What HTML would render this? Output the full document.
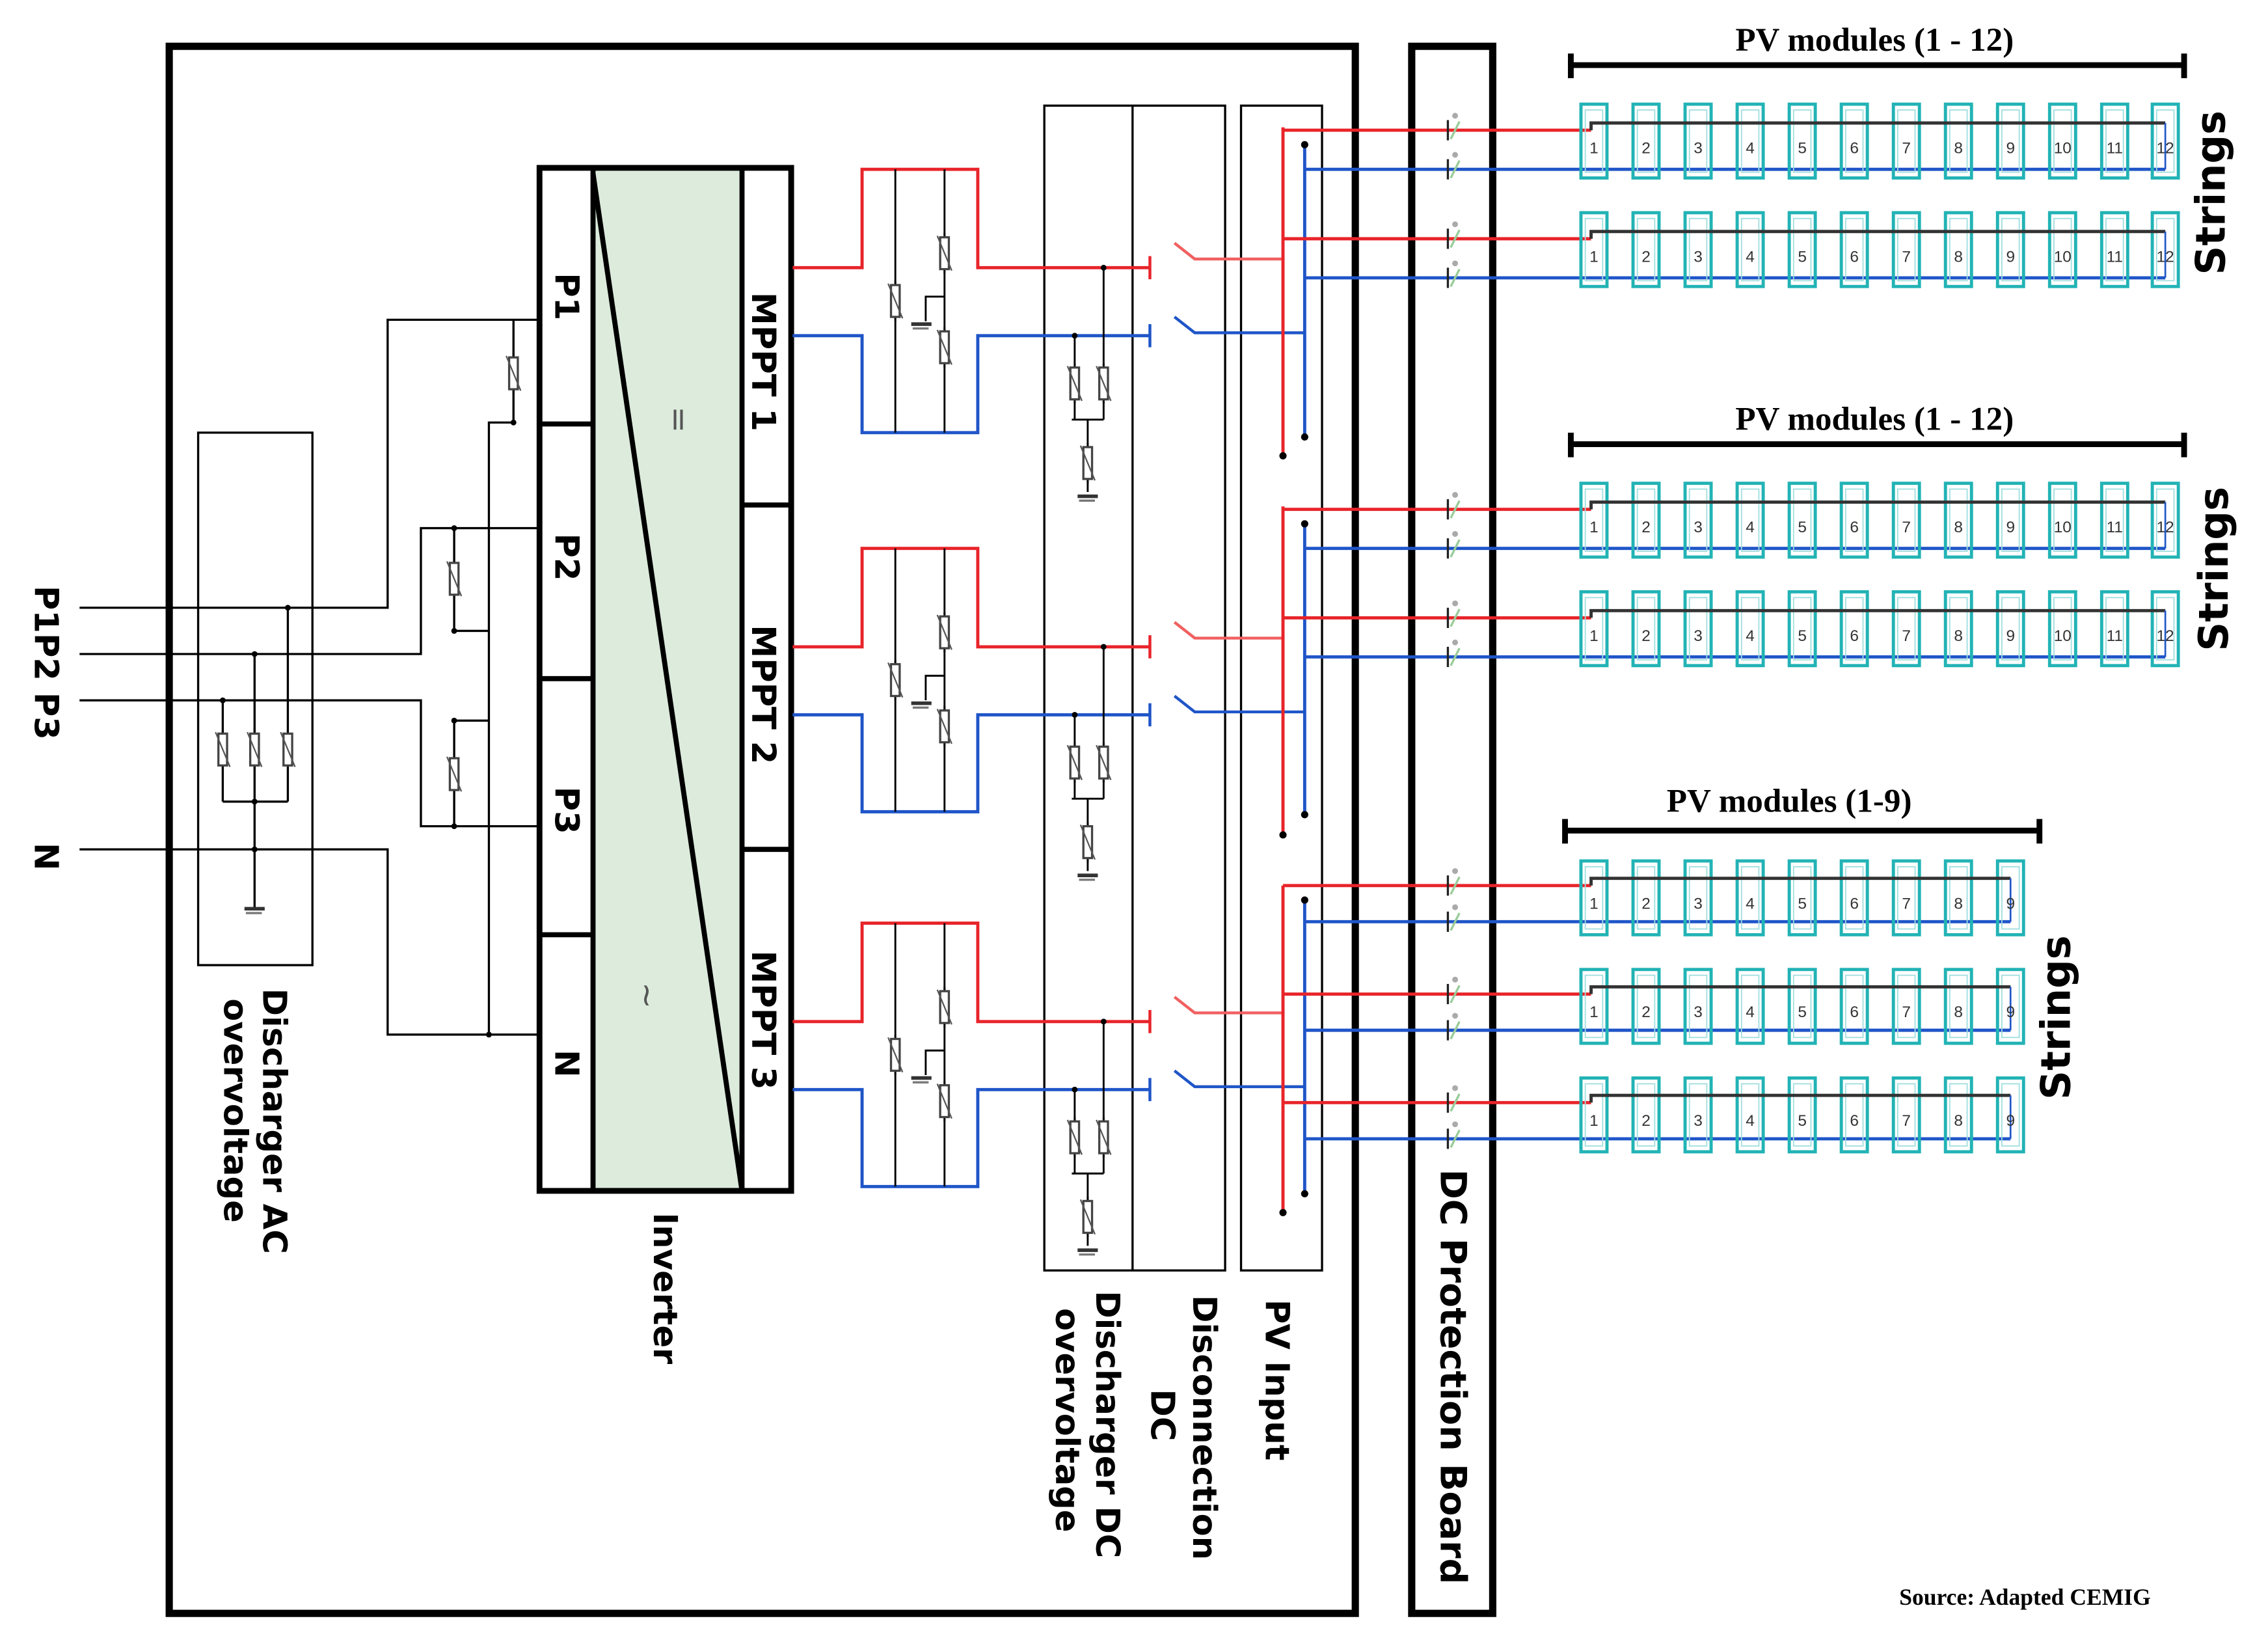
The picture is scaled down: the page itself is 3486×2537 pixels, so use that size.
<!DOCTYPE html>
<html><head><meta charset="utf-8"><style>
html,body{margin:0;padding:0;background:#fff}
svg{display:block}
text{font-family:"DejaVu Sans","Liberation Sans",sans-serif}
.lb text{font-weight:bold;font-size:23px;fill:#000}
.mn{font-family:"Liberation Sans",sans-serif;font-size:11px;fill:#333;text-anchor:middle}
.sr text,text.sr{font-family:"Liberation Serif",serif;font-weight:bold}
</style></head><body>
<svg width="3486" height="2537" viewBox="0 0 1568 1141" preserveAspectRatio="none" xmlns="http://www.w3.org/2000/svg">
<defs>
<g id="v"><line x1="0" y1="-14" x2="0" y2="14" stroke="#000" stroke-width="1.3"/><rect x="-3" y="-11" width="6" height="22" fill="#fff" stroke="#444" stroke-width="1.5"/><line x1="-5" y1="-12" x2="5" y2="12" stroke="#555" stroke-width="1"/></g>
<g id="gnd"><line x1="-7" y1="0" x2="7" y2="0" stroke="#333" stroke-width="2.5"/><line x1="-6" y1="3" x2="5" y2="3" stroke="#777" stroke-width="1.5"/></g>
<g id="m"><rect x="-9" y="0" width="18" height="51" fill="none" stroke="#22b3b5" stroke-width="2.2"/><rect x="-6" y="4" width="12" height="43" fill="none" stroke="#9fdede" stroke-width="0.8"/></g>
<g id="f"><line x1="-4" y1="-7" x2="-4" y2="7" stroke="#222" stroke-width="1.5"/><circle cx="1" cy="-10" r="2" fill="#aaa"/><line x1="-2" y1="6" x2="4" y2="-6" stroke="#9c9" stroke-width="1.5"/></g>
</defs>

<rect x="117" y="32" width="820" height="1083" fill="none" stroke="#000" stroke-width="5"/>
<rect x="976" y="32" width="56" height="1083" fill="none" stroke="#000" stroke-width="5"/>

<g fill="none" stroke="#000" stroke-width="1.5">
<polyline points="55,420 268,420 268,221 373,221"/>
<polyline points="55,452 291,452 291,365 373,365"/>
<polyline points="55,484 291,484 291,571 373,571"/>
<polyline points="55,587 268,587 268,715 373,715"/>
<line x1="355" y1="221" x2="355" y2="292"/><polyline points="355,292 338,292 338,715"/>
<line x1="314" y1="365" x2="314" y2="436"/><line x1="314" y1="436" x2="338" y2="436"/>
<line x1="314" y1="498" x2="314" y2="571"/><line x1="314" y1="498" x2="338" y2="498"/>
<rect x="137" y="299" width="79" height="368"/>
<line x1="199" y1="420" x2="199" y2="554"/><line x1="176" y1="452" x2="176" y2="627"/><line x1="154" y1="484" x2="154" y2="554"/>
<line x1="154" y1="554" x2="199" y2="554"/>
</g>
<use href="#v" x="355" y="258"/><use href="#v" x="314" y="400"/><use href="#v" x="314" y="535"/>
<use href="#v" x="154" y="518"/><use href="#v" x="176" y="518"/><use href="#v" x="199" y="518"/>
<use href="#gnd" x="176" y="628"/>
<g fill="#000"><circle cx="199" cy="420" r="2"/><circle cx="176" cy="452" r="2"/><circle cx="154" cy="484" r="2"/><circle cx="176" cy="554" r="2"/><circle cx="176" cy="587" r="2"/><circle cx="355" cy="292" r="2"/><circle cx="314" cy="365" r="2"/><circle cx="314" cy="436" r="2"/><circle cx="314" cy="498" r="2"/><circle cx="314" cy="571" r="2"/><circle cx="338" cy="715" r="2"/></g>

<rect x="410" y="116" width="103" height="707" fill="#dcebdc"/>
<rect x="373" y="116" width="174" height="707" fill="none" stroke="#000" stroke-width="4"/>
<g stroke="#000" stroke-width="3.5"><line x1="410" y1="116" x2="410" y2="823"/><line x1="513" y1="116" x2="513" y2="823"/>
<line x1="373" y1="293" x2="410" y2="293"/><line x1="373" y1="469" x2="410" y2="469"/><line x1="373" y1="646" x2="410" y2="646"/>
<line x1="513" y1="349" x2="547" y2="349"/><line x1="513" y1="587" x2="547" y2="587"/>
<line x1="410" y1="120" x2="513" y2="823"/></g>
<g class="lb">
<text transform="translate(384,205) rotate(90)" text-anchor="middle">P1</text>
<text transform="translate(384,385) rotate(90)" text-anchor="middle">P2</text>
<text transform="translate(384,560) rotate(90)" text-anchor="middle">P3</text>
<text transform="translate(384,735) rotate(90)" text-anchor="middle">N</text>
<text transform="translate(520,250) rotate(90)" text-anchor="middle">MPPT 1</text>
<text transform="translate(520,480) rotate(90)" text-anchor="middle">MPPT 2</text>
<text transform="translate(520,705) rotate(90)" text-anchor="middle">MPPT 3</text>
<text transform="translate(24,458) rotate(90)" text-anchor="middle">P1P2 P3</text>
<text transform="translate(24,592) rotate(90)" text-anchor="middle">N</text>
<text transform="translate(182,683) rotate(90)">Discharger AC</text>
<text transform="translate(155,690) rotate(90)">overvoltage</text>
<text transform="translate(452,838) rotate(90)">Inverter</text>
<text transform="translate(758,892) rotate(90)">Discharger DC</text>
<text transform="translate(730,904) rotate(90)">overvoltage</text>
<text transform="translate(825,895) rotate(90)">Disconnection</text>
<text transform="translate(796,960) rotate(90)">DC</text>
<text transform="translate(875,898) rotate(90)">PV Input</text>
<text transform="translate(996,808) rotate(90)" style="font-size:25px">DC Protection Board</text>
<text transform="translate(1538,190) rotate(-90)" style="font-size:28px">Strings</text>
<text transform="translate(1540,450) rotate(-90)" style="font-size:28px">Strings</text>
<text transform="translate(1431,760) rotate(-90)" style="font-size:28px">Strings</text>
</g>
<text transform="translate(462,290) rotate(90)" font-size="22" fill="#555" text-anchor="middle">=</text>
<text transform="translate(440,688) rotate(90)" font-size="22" fill="#555" text-anchor="middle">~</text>

<g fill="none" stroke="#000" stroke-width="1.5">
<rect x="722" y="73" width="125" height="805"/><line x1="783" y1="73" x2="783" y2="878"/>
<rect x="858" y="73" width="56" height="805"/>
</g>

<g id="b1">
<polyline points="548,185 596,185 596,117 676,117 676,185 795,185" fill="none" stroke="#e8242a" stroke-width="2.2"/>
<polyline points="548,232 596,232 596,299 676,299 676,232 795,232" fill="none" stroke="#1f55c8" stroke-width="2.2"/>
<g stroke="#000" stroke-width="1.3" fill="none"><line x1="619" y1="117" x2="619" y2="299"/><line x1="653" y1="117" x2="653" y2="299"/>
<polyline points="653,205 640,205 640,222"/>
<line x1="763" y1="185" x2="763" y2="290"/><line x1="743" y1="232" x2="743" y2="290"/><line x1="741" y1="290" x2="763" y2="290"/><line x1="752" y1="290" x2="752" y2="340"/></g>
<use href="#v" x="653" y="175"/><use href="#v" x="619" y="208"/><use href="#v" x="653" y="240"/><use href="#gnd" x="637" y="224"/>
<use href="#v" x="743" y="265"/><use href="#v" x="763" y="265"/><use href="#v" x="752" y="320"/><use href="#gnd" x="752" y="343"/>
<circle cx="763" cy="185" r="2"/><circle cx="743" cy="232" r="2"/>
<line x1="795" y1="177" x2="795" y2="193" stroke="#e8242a" stroke-width="2"/>
<line x1="795" y1="224" x2="795" y2="240" stroke="#1f55c8" stroke-width="2"/>
<polyline points="812,168 826,179 887,179" fill="none" stroke="#f06060" stroke-width="2"/>
<polyline points="812,219 826,230 902,230" fill="none" stroke="#1f55c8" stroke-width="2"/>
</g>
<use href="#b1" y="262"/>
<use href="#b1" y="521"/>

<g stroke-width="2.2">
<line x1="887" y1="88" x2="887" y2="315" stroke="#e8242a"/><line x1="902" y1="100" x2="902" y2="302" stroke="#1f55c8"/>
<line x1="887" y1="350" x2="887" y2="577" stroke="#e8242a"/><line x1="902" y1="362" x2="902" y2="563" stroke="#1f55c8"/>
<line x1="887" y1="612" x2="887" y2="838" stroke="#e8242a"/><line x1="902" y1="622" x2="902" y2="825" stroke="#1f55c8"/>
</g>
<g fill="#000"><circle cx="887" cy="315" r="2.5"/><circle cx="902" cy="302" r="2.5"/><circle cx="887" cy="577" r="2.5"/><circle cx="902" cy="563" r="2.5"/><circle cx="887" cy="838" r="2.5"/><circle cx="902" cy="825" r="2.5"/><circle cx="902" cy="100" r="2.5"/><circle cx="902" cy="362" r="2.5"/><circle cx="902" cy="622" r="2.5"/></g>

<g id="r12">
<line x1="887" y1="90" x2="1100" y2="90" stroke="#e8242a" stroke-width="2.2"/>
<line x1="902" y1="117" x2="1497" y2="117" stroke="#1f55c8" stroke-width="2.2"/>
<use href="#f" x="1005" y="90"/><use href="#f" x="1005" y="117"/>
<use href="#m" x="1102" y="72"/><use href="#m" x="1138" y="72"/><use href="#m" x="1174" y="72"/><use href="#m" x="1210" y="72"/><use href="#m" x="1246" y="72"/><use href="#m" x="1282" y="72"/><use href="#m" x="1318" y="72"/><use href="#m" x="1354" y="72"/><use href="#m" x="1390" y="72"/><use href="#m" x="1426" y="72"/><use href="#m" x="1462" y="72"/><use href="#m" x="1497" y="72"/>
<polyline points="1100,90 1100,85 1497,85" fill="none" stroke="#333" stroke-width="2.2"/>
<line x1="1497" y1="85" x2="1497" y2="117" stroke="#1f55c8" stroke-width="1.2"/>
<text class="mn" y="106"><tspan x="1102">1</tspan><tspan x="1138">2</tspan><tspan x="1174">3</tspan><tspan x="1210">4</tspan><tspan x="1246">5</tspan><tspan x="1282">6</tspan><tspan x="1318">7</tspan><tspan x="1354">8</tspan><tspan x="1390">9</tspan><tspan x="1426">10</tspan><tspan x="1462">11</tspan><tspan x="1497">12</tspan></text>
</g>
<use href="#r12" y="75"/>
<use href="#r12" y="262"/>
<use href="#r12" y="337"/>

<g id="r9">
<line x1="887" y1="612" x2="1100" y2="612" stroke="#e8242a" stroke-width="2.2"/>
<line x1="902" y1="637" x2="1390" y2="637" stroke="#1f55c8" stroke-width="2.2"/>
<use href="#f" x="1005" y="612"/><use href="#f" x="1005" y="637"/>
<use href="#m" x="1102" y="595"/><use href="#m" x="1138" y="595"/><use href="#m" x="1174" y="595"/><use href="#m" x="1210" y="595"/><use href="#m" x="1246" y="595"/><use href="#m" x="1282" y="595"/><use href="#m" x="1318" y="595"/><use href="#m" x="1354" y="595"/><use href="#m" x="1390" y="595"/>
<polyline points="1100,612 1100,607 1390,607" fill="none" stroke="#333" stroke-width="2.2"/>
<line x1="1390" y1="607" x2="1390" y2="637" stroke="#1f55c8" stroke-width="1.2"/>
<text class="mn" y="628"><tspan x="1102">1</tspan><tspan x="1138">2</tspan><tspan x="1174">3</tspan><tspan x="1210">4</tspan><tspan x="1246">5</tspan><tspan x="1282">6</tspan><tspan x="1318">7</tspan><tspan x="1354">8</tspan><tspan x="1390">9</tspan></text>
</g>
<use href="#r9" y="75"/>
<use href="#r9" y="150"/>

<g stroke="#000" stroke-width="4"><line x1="1086" y1="45" x2="1510" y2="45"/><line x1="1086" y1="37" x2="1086" y2="54"/><line x1="1510" y1="37" x2="1510" y2="54"/>
<line x1="1086" y1="307" x2="1510" y2="307"/><line x1="1086" y1="299" x2="1086" y2="316"/><line x1="1510" y1="299" x2="1510" y2="316"/>
<line x1="1082" y1="574" x2="1410" y2="574"/><line x1="1082" y1="566" x2="1082" y2="583"/><line x1="1410" y1="566" x2="1410" y2="583"/></g>
<g class="sr" font-size="23" text-anchor="middle">
<text x="1296" y="35">PV modules (1 - 12)</text>
<text x="1296" y="297">PV modules (1 - 12)</text>
<text x="1237" y="561">PV modules (1-9)</text>
</g>
<text x="1400" y="1109" class="sr" font-size="16" text-anchor="middle">Source: Adapted CEMIG</text>
</svg>
</body></html>
